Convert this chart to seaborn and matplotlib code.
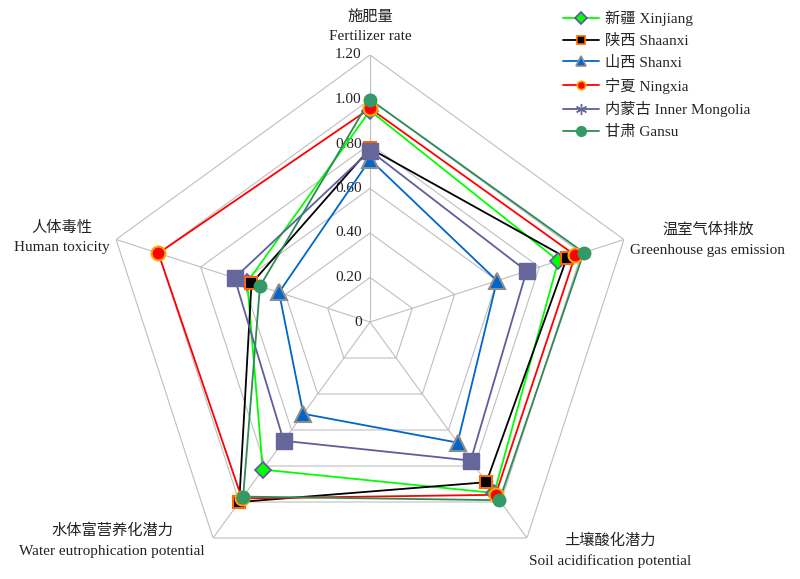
import numpy as np
import matplotlib
matplotlib.use('Agg')
import matplotlib.pyplot as plt
from matplotlib.lines import Line2D
import seaborn as sns

# axis (indicator) names, clockwise from top
axis_cn = ['施肥量', '温室气体排放', '土壤酸化潜力', '水体富营养化潜力', '人体毒性']
axis_en = ['Fertilizer rate', 'Greenhouse gas emission', 'Soil acidification potential',
           'Water eutrophication potential', 'Human toxicity']

# normalised scores per province, same order as axes
xinjiang = [0.95, 0.89, 0.95, 0.82, 0.58]
shaanxi = [0.78, 0.93, 0.89, 1.00, 0.56]
shanxi = [0.73, 0.60, 0.67, 0.51, 0.43]
ningxia = [0.96, 0.97, 0.96, 0.98, 1.00]
inner_mongolia = [0.77, 0.74, 0.77, 0.66, 0.64]
gansu = [1.00, 1.01, 0.99, 0.97, 0.52]

series_names = ['新疆 Xinjiang', '陕西 Shaanxi', '山西 Shanxi', '宁夏 Ningxia',
                '内蒙古 Inner Mongolia', '甘肃 Gansu']
series_values = [xinjiang, shaanxi, shanxi, ningxia, inner_mongolia, gansu]

ticks = [0, 0.2, 0.4, 0.6, 0.8, 1.0, 1.2]
tick_labels = ['0', '0.20', '0.40', '0.60', '0.80', '1.00', '1.20']

# styles: line colour, marker, marker size, face, edge, edge width, legend marker
styles = [
    dict(color='#00FF00', marker='D', ms=8, mfc='#00FF00', mec='#6A4FA8', mew=1.2, lm='D', lms=6),
    dict(color='#000000', marker='s', ms=9, mfc='#000000', mec='#FF6600', mew=1.5, lm='s', lms=6),
    dict(color='#0066CC', marker='^', ms=11, mfc='#0066CC', mec='#8C8C8C', mew=1.5, lm='^', lms=7),
    dict(color='#FF0000', marker='o', ms=10, mfc='#FF0000', mec='#FFA500', mew=1.5, lm='o', lms=6),
    dict(color='#5E5E9C', marker='s', ms=12, mfc='#66669A', mec='#66669A', mew=1.0, lm=(6, 2, 0), lms=8),
    dict(color='#2E8B57', marker='o', ms=9, mfc='#339966', mec='#339966', mew=1.0, lm='o', lms=7),
]

sns.set_style('white')
plt.rcParams['font.family'] = ['Liberation Serif', 'Noto Sans CJK SC']

W, H = 800, 579
fig = plt.figure(figsize=(W / 100, H / 100), dpi=100)
cx, cy, R = 370, 322, 267
ax = fig.add_axes([(cx - R) / W, (H - cy - R) / H, 2 * R / W, 2 * R / H], projection='polar')
ax.set_theta_zero_location('N')
ax.set_theta_direction(-1)
ax.set_ylim(0, 1.2)
ax.grid(False)
ax.spines['polar'].set_visible(False)
ax.set_xticks([])
ax.set_yticks([])
ax.patch.set_alpha(0)

n = len(axis_cn)
theta = np.linspace(0, 2 * np.pi, n, endpoint=False)
theta_closed = np.append(theta, theta[0])

# pentagon grid and spokes
for t in ticks[1:]:
    ax.plot(theta_closed, [t] * (n + 1), color='#BFBFBF', lw=0.8, zorder=1)
for th in theta:
    ax.plot([th, th], [0, 1.2], color='#BFBFBF', lw=0.8, zorder=1)

for t, lab in zip(ticks, tick_labels):
    ax.annotate(lab, xy=(0, t), xytext=(-6, 0), textcoords='offset points',
                ha='right', va='center', fontsize=11, color='#222222',
                annotation_clip=False)

for vals, st in zip(series_values, styles):
    v = np.append(vals, vals[0])
    ax.plot(theta_closed, v, color=st['color'], lw=1.3, zorder=3)
    ax.plot(theta, vals, ls='none', marker=st['marker'], ms=st['ms'], mfc=st['mfc'],
            mec=st['mec'], mew=st['mew'], zorder=4, clip_on=False)

# axis titles
label_pos = [(370, 17, 36), (708, 230, 250), (610, 541, 561), (112, 531, 551), (62, 228, 248)]
for (x, y1, y2), cn, en in zip(label_pos, axis_cn, axis_en):
    fig.text(x / W, 1 - y1 / H, cn, ha='center', va='center', fontsize=11, color='#222222')
    fig.text(x / W, 1 - y2 / H, en, ha='center', va='center', fontsize=11, color='#222222')

handles = [Line2D([0], [0], color=st['color'], lw=1.3, marker=st['lm'], ms=st['lms'],
                  mfc=st['mfc'], mec=st['mec'], mew=min(st['mew'], 1.2))
           for st in styles]
fig.legend(handles, series_names, loc='upper left', bbox_to_anchor=(0.69, 1.0),
           frameon=False, fontsize=11, handlelength=2.4, handletextpad=0.4,
           labelspacing=0.5, borderaxespad=0.3)

fig.savefig('out.png', dpi=100)
